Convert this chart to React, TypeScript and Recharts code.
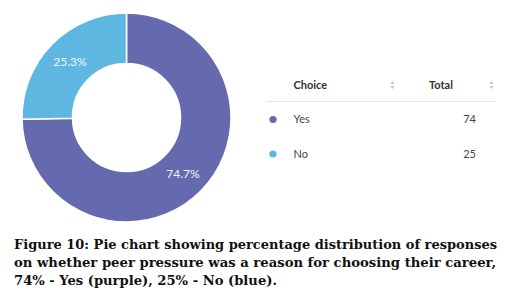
import React from "react";
import { PieChart, Pie, Cell } from "recharts";

const choices = ["Yes", "No"];
const totals = [74, 25];
const colors = ["#6569AE", "#5DB7E0"];
const captionLines = [
  "Figure 10: Pie chart showing percentage distribution of responses",
  "on whether peer pressure was a reason for choosing their career,",
  "74% - Yes (purple), 25% - No (blue).",
];

const data = choices.map((c, i) => ({ name: c, value: totals[i] }));

const RADIAN = Math.PI / 180;
const renderLabel = (props: any) => {
  const { cx, cy, midAngle, innerRadius, outerRadius, percent } = props;
  const r = (innerRadius + outerRadius) / 2;
  const x = cx + r * Math.cos(-midAngle * RADIAN);
  const y = cy + r * Math.sin(-midAngle * RADIAN);
  return (
    <text
      x={x}
      y={y}
      fill="#f4f4fa"
      textAnchor="middle"
      dominantBaseline="central"
      fontFamily="Lato, sans-serif"
      fontSize={12}
    >
      {(percent * 100).toFixed(1)}%
    </text>
  );
};

const SortIcon = ({ x, y }: { x: number; y: number }) => (
  <g fill="#c4c4c4">
    <polygon points={`${x - 2},${y - 1} ${x + 2},${y - 1} ${x},${y - 4}`} />
    <polygon points={`${x - 2},${y + 1} ${x + 2},${y + 1} ${x},${y + 4}`} />
  </g>
);

const captionWidths = [483, 482, 263];

export default function App() {
  return (
    <div style={{ position: "absolute", left: 0, top: 0, width: 513, height: 296, background: "#fff" }}>
      <div style={{ position: "absolute", left: 0, top: 0 }}>
        <PieChart width={260} height={235} margin={{ top: 0, right: 0, bottom: 0, left: 0 }}>
          <Pie
            data={data}
            dataKey="value"
            nameKey="name"
            cx={126.5}
            cy={117.5}
            innerRadius={54}
            outerRadius={104.5}
            startAngle={90}
            endAngle={-270}
            stroke="#ffffff"
            strokeWidth={1.5}
            label={renderLabel}
            labelLine={false}
            isAnimationActive={false}
          >
            {data.map((d, i) => (
              <Cell key={d.name} fill={colors[i]} />
            ))}
          </Pie>
        </PieChart>
      </div>
      <svg style={{ position: "absolute", left: 0, top: 0 }} width={513} height={296}>
        <g fontFamily="Lato, sans-serif" fontSize={11}>
          <text x={293.5} y={89} fill="#333" fontWeight="bold">Choice</text>
          <text x={429} y={89} fill="#333" fontWeight="bold">Total</text>
          <SortIcon x={392.5} y={85} />
          <SortIcon x={491.5} y={85} />
          <line x1={266} x2={496} y1={101.5} y2={101.5} stroke="#e6e6e6" strokeWidth={1} />
          {choices.map((c, i) => (
            <g key={c}>
              <circle cx={273} cy={119.5 + i * 34.5} r={3.6} fill={colors[i]} />
              <text x={293.5} y={123 + i * 35} fill="#444">{c}</text>
              <text x={476} y={123 + i * 35} fill="#444" textAnchor="end">{totals[i]}</text>
            </g>
          ))}
        </g>
        <g
          fontFamily="'DejaVu Serif', serif"
          fontWeight="bold"
          fontSize={13.5}
          fill="#111"
          style={{ fontStretch: "condensed" }}
        >
          {captionLines.map((l, i) => (
            <text
              key={i}
              x={14}
              y={249 + i * 18}
              textLength={captionWidths[i]}
              lengthAdjust="spacingAndGlyphs"
            >
              {l}
            </text>
          ))}
        </g>
      </svg>
    </div>
  );
}
